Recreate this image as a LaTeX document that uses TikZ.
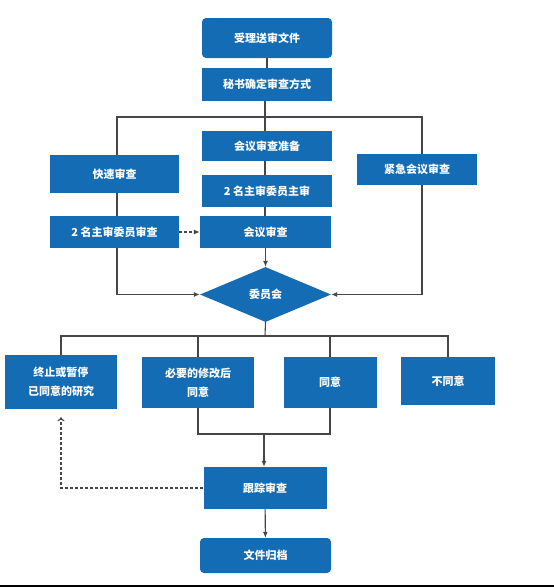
\documentclass[tikz,border=0pt]{standalone}
\usepackage{fontspec}
\usetikzlibrary{shapes.geometric, arrows.meta}
\newfontfamily\cjk{Noto Sans CJK SC}
\definecolor{boxblue}{RGB}{20,108,180}
\definecolor{linegray}{RGB}{70,70,70}
\tikzset{
  blk/.style={fill=boxblue, text=white, inner sep=0pt, align=center,
    font=\cjk\bfseries\fontsize{11pt}{19pt}\selectfont},
  ln/.style={draw=linegray, line width=1.1pt},
  dsh/.style={ln, dash pattern=on 3pt off 2pt}
}

\begin{document}
\begin{tikzpicture}[x=1pt, y=-1pt, >={Latex[length=6pt,width=5pt]}]
      \useasboundingbox (0,0) rectangle (554,587);

      \node[blk, rounded corners=4pt, minimum width=130pt, minimum height=40pt] (recv) at (267,38) {受理送审文件};
      \node[blk, minimum width=130pt, minimum height=33pt] (sec) at (267,84.5) {秘书确定审查方式};
      \node[blk, minimum width=130pt, minimum height=30pt] (prep) at (267,146) {会议审查准备};
      \node[blk, minimum width=129pt, minimum height=38pt] (fast) at (114.5,174) {快速审查};
      \node[blk, minimum width=120pt, minimum height=31pt] (urgent) at (417,169.5) {紧急会议审查};
      \node[blk, minimum width=130pt, minimum height=32pt] (chief) at (267,191) {2 名主审委员主审};
      \node[blk, minimum width=129pt, minimum height=32pt] (two) at (114.5,232) {2 名主审委员审查};
      \node[blk, minimum width=131pt, minimum height=32pt] (meet) at (265.5,232) {会议审查};
      \node[blk, diamond, minimum width=131pt, minimum height=55pt] (comm) at (265.5,294.5) {委员会};

      \node[blk, minimum width=112pt, minimum height=54pt] (stop) at (61,382) {终止或暂停\\已同意的研究};
      \node[blk, minimum width=112pt, minimum height=51pt] (mod) at (198,382.5) {必要的修改后\\同意};
      \node[blk, minimum width=93pt, minimum height=51pt] (agree) at (330,382.5) {同意};
      \node[blk, minimum width=94pt, minimum height=48pt] (disagree) at (448,381) {不同意};
      \node[blk, minimum width=123pt, minimum height=42pt] (track) at (265,488) {跟踪审查};
      \node[blk, rounded corners=4pt, minimum width=131pt, minimum height=35pt] (file) at (265.5,555.5) {文件归档};

      \coordinate (split) at (265,117);
      \coordinate (lx) at (117,0);
      \coordinate (rx) at (422,0);
      \coordinate (fan) at (265,336);
      \coordinate (join) at (264,434);

      % upper part
      \draw[ln] (recv) -- (sec);
      \draw[ln] (sec.south -| split) -- (prep.north -| split);
      \draw[ln] (fast.north -| lx) |- (split) -| (urgent.north -| rx);
      \draw[ln] (fast.south -| lx) -- (two.north -| lx);
      \draw[ln] (prep.south -| split) -- (chief.north -| split);
      \draw[ln] (chief.south -| split) -- (meet.north -| split);
      \draw[dsh, ->] (two) -- (meet);
      \draw[ln, ->] (meet) -- (comm);
      \draw[ln, ->] (two.south -| lx) |- (comm.west);
      \draw[ln, ->] (urgent.south -| rx) |- (comm.east);

      % decisions
      \draw[ln] (comm.south) -- (fan);
      \draw[ln] (stop.north) |- (fan) -| (disagree.north);
      \draw[ln] (mod.north) -- (mod.north |- fan);
      \draw[ln] (agree.north) -- (agree.north |- fan);

      % follow-up
      \draw[ln] (mod.south) |- (join) -| (agree.south);
      \draw[ln, ->] (join) -- (track.north -| join);
      \draw[ln, ->] (track) -- (file);
      \draw[dsh, -{To[length=4pt,width=7pt]}] (track.west) -| ([yshift=-8pt]stop.south);

      \draw[line width=1.5pt] (0,586) -- (554,586);
\end{tikzpicture}
\end{document}
